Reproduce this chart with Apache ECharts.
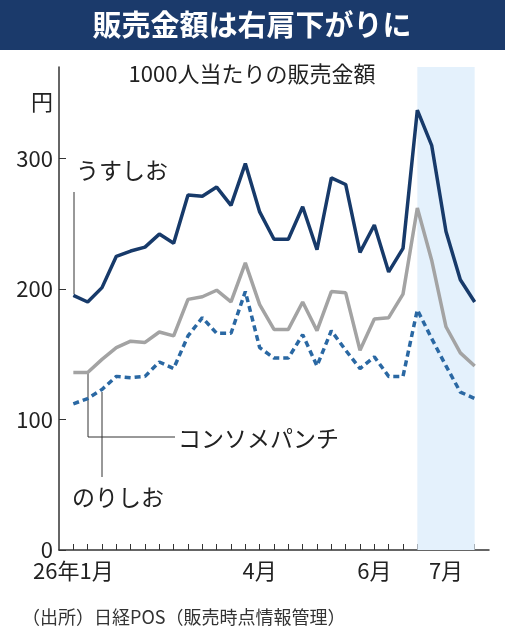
<!DOCTYPE html>
<html>
<head>
<meta charset="utf-8">
<script src="https://cdn.jsdelivr.net/npm/echarts@6/dist/echarts.min.js"></script>
<style>
  html, body { margin: 0; padding: 0; background: #fff; }
  #chart { width: 505px; height: 640px; }
</style>
</head>
<body>
<div id="chart"></div>
<script>
// 週ごとのデータ（1000人当たりの販売金額、円）
var weeks = [0,1,2,3,4,5,6,7,8,9,10,11,12,13,14,15,16,17,18,19,20,21,22,23,24,25,26,27,28]
var usushio = [195,190,201,225,229,232,242,235,272,271,278,264,296,259,238,238,263,230,285,280,228,249,213,231,337,310,244,207,190]
var consomme = [136,136,146,155,160,159,167,164,192,194,199,190,220,188,169,169,190,168,198,197,153,177,178,196,262,222,171,151,141]
var norishio = [112,116,123,133,132,133,144,139,164,178,166,166,198,155,147,147,165,141,168,153,139,148,133,133,184,162,141,121,116]
var monthTicks = {0: '26年1月', 13: '4月', 21: '6月', 26: '7月'}
var yTicks = [0, 100, 200, 300]

var font = '"Noto Sans CJK JP", "Noto Sans", sans-serif'

function pairs(arr) {
    return arr.map(function(v, i) { return [weeks[i], v] })
}

var chart = echarts.init(document.getElementById('chart'))
var option = {
    animation: false,
    grid: { left: 59, right: 16, top: 67, bottom: 90 },
    xAxis: {
        type: 'value',
        min: -1,
        max: 29,
        interval: 1,
        splitLine: { show: false },
        axisLine: { onZero: false, lineStyle: { color: '#333', width: 1.5 } },
        axisTick: { inside: true, length: 6, lineStyle: { color: '#333' }, customValues: weeks },
        axisLabel: {
            customValues: [0, 13, 21, 26],
            formatter: function(v) { return monthTicks[v] || '' },
            color: '#222', fontSize: 22, fontFamily: font, margin: 10
        }
    },
    yAxis: {
        type: 'value',
        min: 0,
        max: 370,
        interval: 100,
        splitLine: { show: false },
        axisLine: { show: true, onZero: false, lineStyle: { color: '#333', width: 1.5 } },
        axisTick: { show: true, inside: true, length: 7, lineStyle: { color: '#333' }, customValues: yTicks },
        axisLabel: { customValues: yTicks, color: '#222', fontSize: 22, fontFamily: font, margin: 6 }
    },
    series: [{
        name: 'うすしお',
        type: 'line',
        data: pairs(usushio),
        symbol: 'none',
        lineStyle: { color: '#173a6a', width: 3.5 },
        z: 4,
        markArea: {
            silent: true,
            itemStyle: { color: '#e4f1fc' },
            data: [[{ xAxis: 24 }, { xAxis: 28 }]]
        }
    }, {
        name: 'コンソメパンチ',
        type: 'line',
        data: pairs(consomme),
        symbol: 'none',
        lineStyle: { color: '#a3a3a3', width: 3.5 },
        z: 3
    }, {
        name: 'のりしお',
        type: 'line',
        data: pairs(norishio),
        symbol: 'none',
        lineStyle: { color: '#2a68a3', width: 3.5, type: [6, 4] },
        z: 3
    }],
    graphic: [
        { type: 'rect', shape: { x: 0, y: 0, width: 505, height: 50 }, style: { fill: '#1b3a6b' } },
        { type: 'text', x: 252, y: 25, style: { text: '販売金額は右肩下がりに', fill: '#fff', font: 'bold 29px ' + font, align: 'center', verticalAlign: 'middle' } },
        { type: 'text', x: 252, y: 74, style: { text: '1000人当たりの販売金額', fill: '#222', font: '22px ' + font, align: 'center', verticalAlign: 'middle' } },
        { type: 'text', x: 53, y: 102, style: { text: '円', fill: '#222', font: '22px ' + font, align: 'right', verticalAlign: 'middle' } },
        { type: 'text', x: 76, y: 170, style: { text: 'うすしお', fill: '#222', font: '23px ' + font, verticalAlign: 'middle' } },
        { type: 'polyline', shape: { points: [[74, 192], [74, 294]] }, style: { stroke: '#333', lineWidth: 1 } },
        { type: 'polyline', shape: { points: [[88, 372], [88, 437], [175, 437]] }, style: { stroke: '#333', lineWidth: 1 } },
        { type: 'text', x: 178, y: 438, style: { text: 'コンソメパンチ', fill: '#222', font: '23px ' + font, verticalAlign: 'middle' } },
        { type: 'polyline', shape: { points: [[102, 392], [102, 477]] }, style: { stroke: '#333', lineWidth: 1 } },
        { type: 'text', x: 72, y: 497, style: { text: 'のりしお', fill: '#222', font: '23px ' + font, verticalAlign: 'middle' } },
        { type: 'text', x: 22, y: 617, style: { text: '（出所）日経POS（販売時点情報管理）', fill: '#333', font: '18px ' + font, verticalAlign: 'middle' } }
    ]
}
chart.setOption(option)
window.addEventListener('resize', function() { chart.resize() })
</script>
</body>
</html>
